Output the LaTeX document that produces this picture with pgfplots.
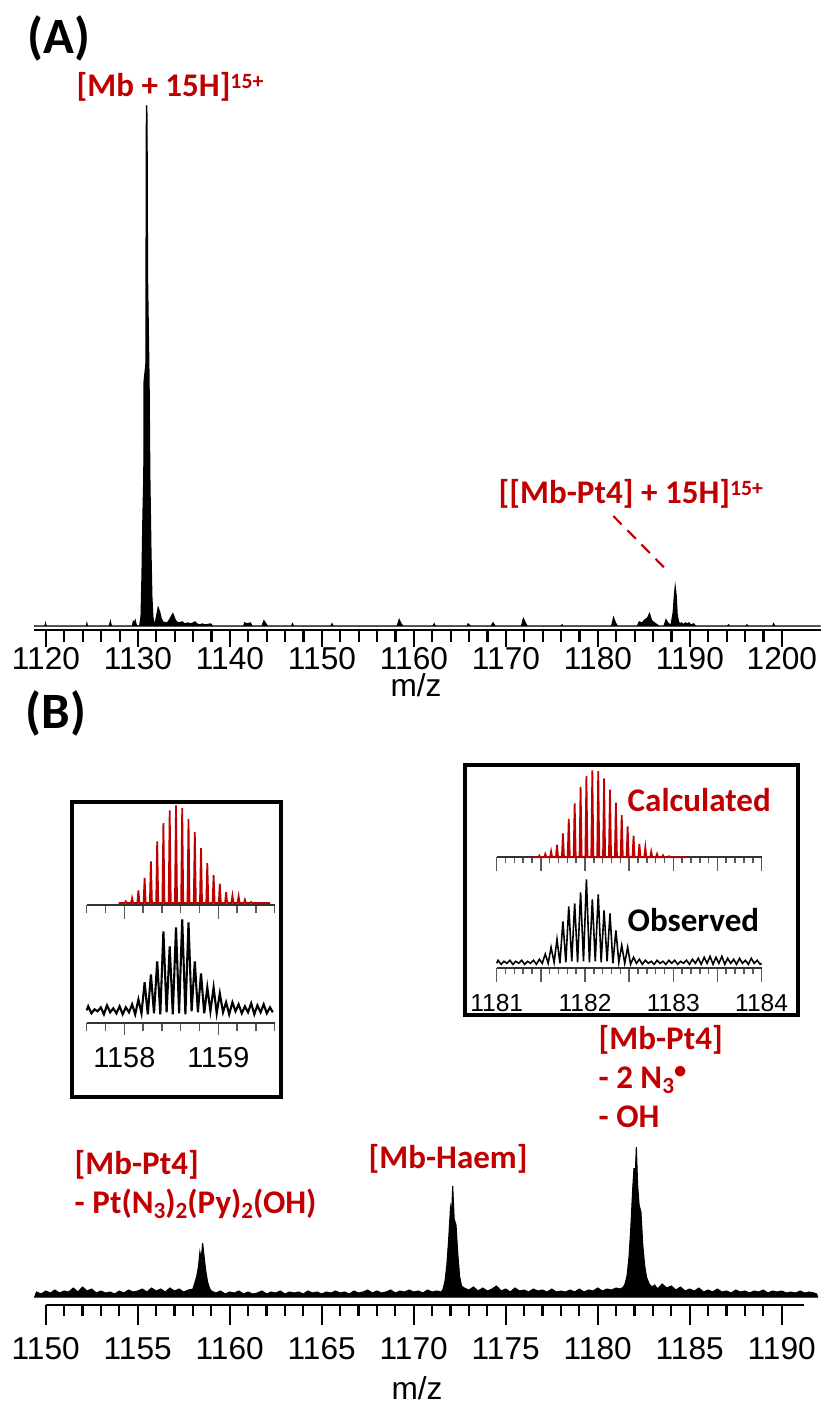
\documentclass[border=0pt]{standalone}
\usepackage{fontspec}
\setmainfont{Carlito}
\newfontfamily\arial{Liberation Sans}
\usepackage{pgfplots}
\pgfplotsset{compat=1.18}
\definecolor{dred}{RGB}{192,0,0}
\newcommand\sub[1]{\raisebox{-1.6pt}{\fontsize{6.6}{7}\selectfont #1}}
\newcommand\sups[1]{\raisebox{2.2pt}{\fontsize{6.2}{7}\selectfont #1}}
\pgfplotsset{
 base/.style={clip=false, hide y axis, axis x line*=bottom, tick align=outside, y=0.01cm,
   anchor=south west, axis line style={line width=0.8pt},
   tick style={line width=0.6pt, black},
   xticklabel style={font=\arial\fontsize{9}{10}\selectfont}},
 inset/.style={clip=false, hide y axis, axis x line*=bottom, tick align=outside, y=0.01cm,
   anchor=south west, axis line style={line width=0.5pt, black!80},
   tick style={line width=0.45pt, black!65}},
}
\begin{document}
\begin{tikzpicture}
\useasboundingbox (0,0) rectangle (8.25cm,-14.05cm);

% ---------------- Panel A ----------------
\begin{axis}[base, at={(0.34cm,-6.30cm)}, x=0.092cm,
  xmin=1118.7, xmax=1204.2, ymin=-4, ymax=530,
  xtick={1120,1130,1140,1150,1160,1170,1180,1190,1200},
  xticklabels={1120,1130,1140,1150,1160,1170,1180,1190,1200},
  xticklabel style={yshift=0.12cm},
  minor tick num=4, major tick length=0.17cm, minor tick length=0.12cm]
\addplot[fill=black, draw=black, line width=0.4pt] coordinates {
(1118.7,0) (1119.9,0) (1119.95,2) (1120.0,0) (1124.4,0) (1124.45,2) (1124.5,0)
(1126.9,0) (1127.0,4) (1127.1,0) (1129.4,0) (1129.5,4) (1129.6,2) (1129.7,5) (1129.8,1) (1130.0,0)
(1130.2,0) (1130.35,10) (1130.45,51) (1130.55,110) (1130.65,150) (1130.67,244) (1130.87,262)
(1130.92,500) (1130.95,521) (1130.98,500) (1131.03,350) (1131.2,244) (1131.28,150) (1131.4,76)
(1131.5,30) (1131.6,10) (1131.7,4) (1131.85,2)
(1132.0,8) (1132.2,18) (1132.35,14) (1132.5,8) (1132.7,4) (1133.0,3) (1133.3,4) (1133.6,9)
(1133.8,12) (1134.0,7) (1134.2,4) (1134.5,3) (1134.8,4) (1135.1,2) (1135.4,3) (1135.7,2)
(1136.0,3) (1136.2,4) (1136.4,2) (1136.7,1) (1137.0,2) (1137.3,1) (1137.9,2) (1138.1,0)
(1141.5,0) (1141.6,3) (1141.9,2) (1142.2,3) (1142.4,0) (1143.5,0) (1143.7,5) (1143.9,2) (1144.1,0)
(1146.7,0) (1146.8,2) (1146.9,0) (1151.0,0) (1151.1,2) (1151.2,0) (1158.2,0) (1158.4,6) (1158.6,2)
(1158.8,0) (1162.1,0) (1162.2,2) (1162.3,0) (1165.8,0) (1165.9,2) (1166.1,0) (1168.4,0) (1168.6,3)
(1168.8,0) (1171.7,0) (1171.9,7) (1172.1,3) (1172.3,0) (1176.0,0) (1176.1,1) (1176.2,0)
(1181.5,0) (1181.7,8) (1181.9,3) (1182.1,0) (1184.3,0) (1184.5,4) (1184.8,3) (1185.1,6) (1185.4,8)
(1185.6,12) (1185.8,6) (1186.0,4) (1186.3,2) (1186.6,0) (1187.2,0) (1187.4,6) (1187.6,3)
(1187.85,1) (1187.95,1) (1188.05,6) (1188.2,14) (1188.3,28) (1188.4,38) (1188.5,30) (1188.6,12)
(1188.75,4) (1188.9,2) (1189.1,3) (1189.3,1) (1189.5,3) (1189.7,2) (1189.9,3) (1190.1,1)
(1190.4,2) (1190.6,0) (1194.1,0) (1194.2,1) (1194.3,0) (1196.1,0) (1196.2,1) (1196.3,0)
(1199.0,0) (1199.1,2) (1199.2,0) (1204.2,0)} -- cycle;
\end{axis}

% ---------------- Panel B ----------------
\begin{axis}[base, at={(0.457cm,-13.05cm)}, x=0.184cm,
  xmin=1150, xmax=1191.2, ymin=-8, ymax=160,
  xtick={1150,1155,1160,1165,1170,1175,1180,1185,1190},
  xticklabels={1150,1155,1160,1165,1170,1175,1180,1185,1190},
  minor tick num=4, major tick length=0.20cm, minor tick length=0.11cm]
\addplot[fill=black, draw=black, line width=0.3pt] coordinates {
(1149.4,0) (1149.5,5) (1149.75,3) (1150.0,6) (1150.25,4) (1150.5,7) (1150.75,4) (1151.0,6)
(1151.25,5) (1151.5,9) (1151.75,5) (1152.0,10) (1152.25,6) (1152.5,8) (1152.75,4) (1153.0,6)
(1153.25,4) (1153.5,5) (1153.75,3) (1154.0,6) (1154.25,4) (1154.5,7) (1154.75,5) (1155.0,6)
(1155.25,8) (1155.5,5) (1155.75,9) (1156.0,6) (1156.25,8) (1156.5,5) (1156.75,9) (1157.0,6)
(1157.25,8) (1157.5,5) (1157.75,7)
(1158.0,8) (1158.1,14) (1158.2,20) (1158.3,30) (1158.38,45) (1158.45,38) (1158.53,54)
(1158.6,42) (1158.7,26) (1158.8,15) (1158.9,9) (1159.0,6)
(1159.25,4) (1159.5,6) (1159.75,3) (1160.0,5) (1160.25,4) (1160.5,6) (1160.75,3) (1161.0,5)
(1161.25,3) (1161.5,4) (1161.75,6) (1162.0,3) (1162.25,5) (1162.5,4) (1162.75,6) (1163.0,3)
(1163.25,5) (1163.5,4) (1163.75,5) (1164.0,3) (1164.25,6) (1164.5,4) (1164.75,5) (1165.0,3)
(1165.25,5) (1165.5,4) (1165.75,6) (1166.0,4) (1166.25,5) (1166.5,3) (1166.75,6) (1167.0,4)
(1167.25,5) (1167.5,7) (1167.75,4) (1168.0,6) (1168.25,4) (1168.5,5) (1168.75,7) (1169.0,4)
(1169.25,6) (1169.5,5) (1169.75,7) (1170.0,5) (1170.25,6) (1170.5,4) (1170.75,7) (1171.0,5)
(1171.25,6) (1171.5,5)
(1171.6,8) (1171.7,16) (1171.8,32) (1171.9,58) (1172.0,90) (1172.06,84) (1172.12,111)
(1172.2,78) (1172.3,72) (1172.4,42) (1172.5,20) (1172.6,11) (1172.75,9)
(1173.0,7) (1173.25,10) (1173.5,6) (1173.75,9) (1174.0,6) (1174.25,8) (1174.5,11) (1174.75,6)
(1175.0,8) (1175.25,5) (1175.5,9) (1175.75,6) (1176.0,7) (1176.25,5) (1176.5,8) (1176.75,6)
(1177.0,7) (1177.25,5) (1177.5,8) (1177.75,5) (1178.0,6) (1178.25,5) (1178.5,7) (1178.75,5)
(1179.0,8) (1179.25,5) (1179.5,7) (1179.75,6) (1180.0,9) (1180.25,6) (1180.5,8) (1180.75,7)
(1181.0,9) (1181.25,8)
(1181.4,10) (1181.5,14) (1181.6,22) (1181.7,40) (1181.8,70) (1181.9,108) (1181.97,129)
(1182.03,118) (1182.1,150) (1182.17,112) (1182.25,92) (1182.35,85) (1182.45,52) (1182.55,32)
(1182.65,20) (1182.8,13) (1182.95,10)
(1183.1,12) (1183.25,8) (1183.5,13) (1183.75,9) (1184.0,11) (1184.25,7) (1184.5,10) (1184.75,6)
(1185.0,8) (1185.25,6) (1185.5,9) (1185.75,5) (1186.0,7) (1186.25,5) (1186.5,8) (1186.75,5)
(1187.0,6) (1187.25,4) (1187.5,7) (1187.75,5) (1188.0,6) (1188.25,4) (1188.5,6) (1188.75,5)
(1189.0,7) (1189.25,4) (1189.5,6) (1189.75,5) (1190.0,6) (1190.25,4) (1190.5,5) (1190.75,4)
(1191.0,6) (1191.25,4) (1191.5,5) (1191.75,4) (1191.9,3) (1191.95,0)} -- cycle;
\end{axis}

% ---------------- Inset 1 (left) ----------------
\draw[line width=1.1pt] (0.717cm,-8.017cm) rectangle (2.807cm,-10.967cm);
\begin{axis}[inset, at={(0.867cm,-9.05cm)}, x=0.94cm,
  xmin=1157.6, xmax=1159.6, ymin=-2, ymax=100,
  xtick={1158,1159}, xticklabels={},
  minor xtick={1157.6,1157.8,1158.2,1158.4,1158.6,1158.8,1159.2,1159.4,1159.6},
  major tick length=0.14cm, minor tick length=0.08cm]
\addplot[dred, line width=0.5pt] coordinates {
(1157.94,0)
(1158.005,0) (1158.016,1.7) (1158.027,0)
(1158.072,0) (1158.083,5) (1158.094,0)
(1158.139,0) (1158.150,12.7) (1158.161,0)
(1158.205,0) (1158.216,25) (1158.227,0)
(1158.272,0) (1158.283,41.7) (1158.294,0)
(1158.339,0) (1158.350,61.7) (1158.361,0)
(1158.405,0) (1158.416,80) (1158.427,0)
(1158.472,0) (1158.483,92.7) (1158.494,0)
(1158.539,0) (1158.550,97.7) (1158.561,0)
(1158.605,0) (1158.616,95) (1158.627,0)
(1158.672,0) (1158.683,84) (1158.694,0)
(1158.739,0) (1158.750,71) (1158.761,0)
(1158.805,0) (1158.816,55) (1158.827,0)
(1158.872,0) (1158.883,40) (1158.894,0)
(1158.939,0) (1158.950,28) (1158.961,0)
(1159.005,0) (1159.016,19.3) (1159.027,0)
(1159.072,0) (1159.083,10.7) (1159.094,0)
(1159.139,0) (1159.150,7.3) (1159.161,0)
(1159.205,0) (1159.216,6.7) (1159.227,0)
(1159.272,0) (1159.283,3.3) (1159.294,0)
(1159.339,0) (1159.350,1) (1159.361,0)
(1159.55,0)};
\end{axis}
\begin{axis}[inset, at={(0.867cm,-10.233cm)}, x=0.94cm,
  xmin=1157.6, xmax=1159.6, ymin=-9, ymax=100,
  xtick={1158,1159}, xticklabels={1158,1159},
  minor xtick={1157.6,1157.8,1158.2,1158.4,1158.6,1158.8,1159.2,1159.4,1159.6},
  major tick length=0.12cm, minor tick length=0.08cm,
  xticklabel style={font=\arial\fontsize{8.2}{9}\selectfont}]
\addplot[black, line width=0.6pt] coordinates {
(1157.60,4) (1157.616,8) (1157.650,1) (1157.683,5) (1157.716,3) (1157.750,7) (1157.783,0)
(1157.816,9) (1157.850,2) (1157.883,6) (1157.916,1) (1157.950,8) (1157.983,0) (1158.016,7)
(1158.050,2) (1158.083,10) (1158.116,0) (1158.150,15) (1158.183,1) (1158.216,32) (1158.250,0)
(1158.283,40) (1158.316,1) (1158.350,53) (1158.383,0) (1158.416,83) (1158.450,2) (1158.483,68)
(1158.516,0) (1158.550,87) (1158.583,1) (1158.616,95) (1158.650,0) (1158.683,92) (1158.716,3)
(1158.750,53) (1158.783,2) (1158.816,41) (1158.850,1) (1158.883,27) (1158.916,3) (1158.950,27)
(1158.983,1) (1159.016,21) (1159.050,2) (1159.083,12) (1159.116,0) (1159.150,12) (1159.183,3)
(1159.216,10) (1159.250,1) (1159.283,8) (1159.316,2) (1159.350,11) (1159.383,0) (1159.416,9)
(1159.450,2) (1159.483,10) (1159.516,1) (1159.550,7) (1159.58,2)};
\end{axis}

% ---------------- Inset 2 (right) ----------------
\draw[line width=1.1pt] (4.65cm,-7.65cm) rectangle (7.98cm,-10.15cm);
\begin{axis}[inset, at={(4.967cm,-8.573cm)}, x=0.883cm,
  xmin=1181, xmax=1184, ymin=0, ymax=95,
  xtick={1181,1181.5,1182,1182.5,1183,1183.5,1184}, xticklabels={},
  minor tick num=4, major tick length=0.14cm, minor tick length=0.06cm]
\addplot[dred, line width=0.5pt] coordinates {
(1181.41,0)
(1181.471,0) (1181.483,1.7) (1181.495,0)
(1181.538,0) (1181.550,3.3) (1181.562,0)
(1181.604,0) (1181.616,6) (1181.628,0)
(1181.671,0) (1181.683,12.6) (1181.695,0)
(1181.738,0) (1181.750,24) (1181.762,0)
(1181.804,0) (1181.816,38.5) (1181.828,0)
(1181.871,0) (1181.883,54) (1181.895,0)
(1181.938,0) (1181.950,70.4) (1181.962,0)
(1182.004,0) (1182.016,81.3) (1182.028,0)
(1182.071,0) (1182.083,87) (1182.095,0)
(1182.138,0) (1182.150,86.3) (1182.162,0)
(1182.204,0) (1182.216,79) (1182.228,0)
(1182.271,0) (1182.283,67.8) (1182.295,0)
(1182.338,0) (1182.350,54.8) (1182.362,0)
(1182.404,0) (1182.416,42.2) (1182.428,0)
(1182.471,0) (1182.483,30.9) (1182.495,0)
(1182.538,0) (1182.550,21.6) (1182.562,0)
(1182.604,0) (1182.616,13.3) (1182.628,0)
(1182.671,0) (1182.683,10) (1182.695,0)
(1182.738,0) (1182.750,5.7) (1182.762,0)
(1182.804,0) (1182.816,3.3) (1182.828,0)
(1182.871,0) (1182.883,2) (1182.895,0)
(1182.938,0) (1182.950,1) (1182.962,0)
(1183.15,0)};
\end{axis}
\begin{axis}[inset, at={(4.967cm,-9.683cm)}, x=0.883cm,
  xmin=1181, xmax=1184, ymin=-5, ymax=95,
  xtick={1181,1181.5,1182,1182.5,1183,1183.5,1184}, xticklabels={1181,,1182,,1183,,1184},
  minor tick num=4, major tick length=0.14cm, minor tick length=0.06cm,
  xticklabel style={font=\arial\fontsize{7}{8}\selectfont}]
\addplot[black, line width=0.45pt] coordinates {
(1181.0,0) (1181.016,3) (1181.050,-1) (1181.083,2) (1181.116,0) (1181.150,3) (1181.183,-1)
(1181.216,2) (1181.250,0) (1181.283,3) (1181.316,-1) (1181.350,2) (1181.383,0) (1181.416,3)
(1181.450,-1) (1181.483,4) (1181.516,0) (1181.550,9.3) (1181.583,0) (1181.616,16) (1181.650,1)
(1181.683,24) (1181.716,0) (1181.750,42) (1181.783,1) (1181.816,57) (1181.850,2) (1181.883,60)
(1181.916,1) (1181.950,71) (1181.983,2) (1182.016,84) (1182.050,1) (1182.083,64) (1182.116,2)
(1182.150,69) (1182.183,1) (1182.216,53) (1182.250,2) (1182.283,50) (1182.316,0) (1182.350,33)
(1182.383,1) (1182.416,18) (1182.450,0) (1182.483,16) (1182.516,-1) (1182.550,6) (1182.583,0)
(1182.616,4) (1182.650,-1) (1182.683,3) (1182.716,0) (1182.750,2) (1182.783,-1) (1182.816,3)
(1182.850,0) (1182.883,2) (1182.916,-1) (1182.950,3) (1182.983,0) (1183.016,3) (1183.050,-1)
(1183.083,2) (1183.116,0) (1183.150,3) (1183.183,-1) (1183.216,4) (1183.250,0) (1183.283,5)
(1183.316,-1) (1183.350,6) (1183.383,0) (1183.416,7) (1183.450,-1) (1183.483,6) (1183.516,0)
(1183.550,7) (1183.583,-1) (1183.616,5) (1183.650,0) (1183.683,4) (1183.716,-1) (1183.750,5)
(1183.783,0) (1183.816,3) (1183.850,-1) (1183.883,5) (1183.916,0) (1183.950,3) (1183.983,-1)
(1184.0,0)};
\end{axis}

% ---------------- Text ----------------
\begin{scope}[every node/.style={anchor=base west, inner sep=0pt}]
\node[font=\fontsize{14.5}{16}\bfseries\selectfont] at (0.27cm,-0.53cm) {(A)};
\node[font=\fontsize{14.5}{16}\bfseries\selectfont] at (0.25cm,-7.28cm) {(B)};
\node[font=\fontsize{9.4}{11}\bfseries\selectfont, text=dred] at (0.76cm,-0.96cm) {[Mb + 15H]\sups{15+}};
\node[font=\fontsize{9.4}{11}\bfseries\selectfont, text=dred] at (4.98cm,-5.03cm) {[[Mb-Pt4] + 15H]\sups{15+}};
\node[font=\fontsize{9.4}{11}\bfseries\selectfont, text=dred] at (0.74cm,-11.74cm) {[Mb-Pt4]};
\node[font=\fontsize{9.4}{11}\bfseries\selectfont, text=dred] at (0.74cm,-12.13cm) {- Pt(N\sub{3})\sub{2}(Py)\sub{2}(OH)};
\node[font=\fontsize{9.4}{11}\bfseries\selectfont, text=dred] at (3.68cm,-11.68cm) {[Mb-Haem]};
\node[font=\fontsize{9.4}{11}\bfseries\selectfont, text=dred] at (5.98cm,-10.49cm) {[Mb-Pt4]};
\node[font=\fontsize{9.4}{11}\bfseries\selectfont, text=dred] at (5.98cm,-10.88cm) {- 2 N\sub{3}\raisebox{2.6pt}{\fontsize{7}{8}\selectfont •}};
\node[font=\fontsize{9.4}{11}\bfseries\selectfont, text=dred] at (5.98cm,-11.27cm) {- OH};
\node[font=\fontsize{9.4}{11}\bfseries\selectfont, text=dred] at (6.27cm,-8.11cm) {Calculated};
\node[font=\fontsize{9.4}{11}\bfseries\selectfont] at (6.27cm,-9.31cm) {Observed};
\end{scope}
\node[font=\arial\fontsize{9}{10}\selectfont] at (4.16cm,-6.85cm) {m/z};
\node[font=\arial\fontsize{9}{10}\selectfont] at (4.17cm,-13.88cm) {m/z};
\draw[dred, line width=0.6pt, dash pattern=on 3.4pt off 2.3pt] (6.133cm,-5.16cm) -- (6.683cm,-5.717cm);
\end{tikzpicture}
\end{document}
